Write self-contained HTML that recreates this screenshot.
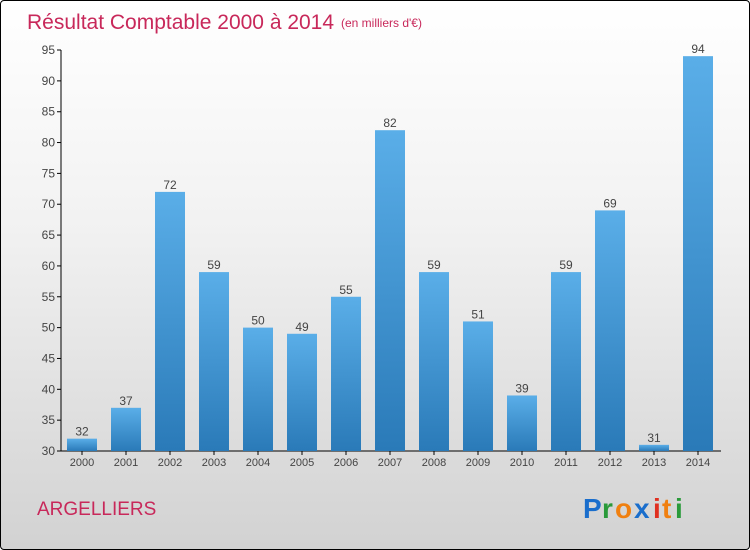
<!DOCTYPE html>
<html><head><meta charset="utf-8"><style>
body{margin:0;}
#wrap{position:relative;width:748px;height:548px;border:1px solid #000;border-radius:4px;overflow:hidden;background:linear-gradient(#ffffff 0%,#f2f2f2 40%,#d2d2d2 100%);font-family:"Liberation Sans",sans-serif;}
</style></head><body>
<div id="wrap">
<svg id="chart" width="748" height="548">
<defs><linearGradient id="bg" x1="0" y1="0" x2="0" y2="1"><stop offset="0" stop-color="#5aaee8"/><stop offset="1" stop-color="#2a7ab8"/></linearGradient></defs>
<text x="26" y="28" font-size="21" fill="#c8285a">Résultat Comptable 2000 à 2014</text>
<text x="340" y="26" font-size="12" fill="#c8285a">(en milliers d'€)</text>
<text x="36" y="514" font-size="19" fill="#c8285a">ARGELLIERS</text>
<g font-size="28" font-weight="bold" font-family="Liberation Sans,sans-serif">
<text x="582" y="517" fill="#1a6ecc">P</text><text x="601" y="517" fill="#2a9a3a">r</text><text x="614" y="517" fill="#f08010">o</text><text x="633" y="517" fill="#1a6ecc">x</text><text x="652" y="517" fill="#e03020">i</text><text x="661" y="517" fill="#f08010">t</text><text x="674" y="517" fill="#2a9a3a">i</text></g>
<g id="axes"></g><g id="bars"></g>
</svg></div>
<script>
const years=["2000","2001","2002","2003","2004","2005","2006","2007","2008","2009","2010","2011","2012","2013","2014"];
const values=[32,37,72,59,50,49,55,82,59,51,39,59,69,31,94];
const ticks=[30,35,40,45,50,55,60,65,70,75,80,85,90,95];
const NS="http://www.w3.org/2000/svg";
const y0=450,yTop=49,vMin=30,vMax=95;
function yS(v){return y0-(v-vMin)*(y0-yTop)/(vMax-vMin);}
function xS(i){return 81+i*44;}
function mk(t,a,p){const e=document.createElementNS(NS,t);for(const k in a)e.setAttribute(k,a[k]);p.appendChild(e);return e;}
const ax=document.getElementById('axes'),bs=document.getElementById('bars');
const yl=mk('line',{x1:60,y1:yTop,x2:60,y2:y0,stroke:'#000'},ax);


const xl=mk('line',{x1:60,y1:y0,x2:720,y2:y0,stroke:'#000'},ax);


ticks.forEach(t=>{const y=yS(t);
mk('line',{x1:56,y1:y,x2:60,y2:y,stroke:'#000'},ax);
const tx=mk('text',{x:54,y:y+4,'font-size':12,'text-anchor':'end',fill:'#444'},ax);tx.textContent=t;

});
years.forEach((yr,i)=>{const x=xS(i),v=values[i],y=yS(v);
const r=mk('rect',{x:x-15,y:y,width:30,height:y0-y,fill:'url(#bg)'},bs);


const l=mk('text',{x:x,y:y-3,'font-size':12,'text-anchor':'middle',fill:'#444'},bs);l.textContent=v;


mk('line',{x1:x,y1:y0,x2:x,y2:y0+4,stroke:'#000'},ax);
const xt=mk('text',{x:x,y:465,'font-size':11,'text-anchor':'middle',fill:'#444'},ax);xt.textContent=yr;

});
</script>
</body></html>
